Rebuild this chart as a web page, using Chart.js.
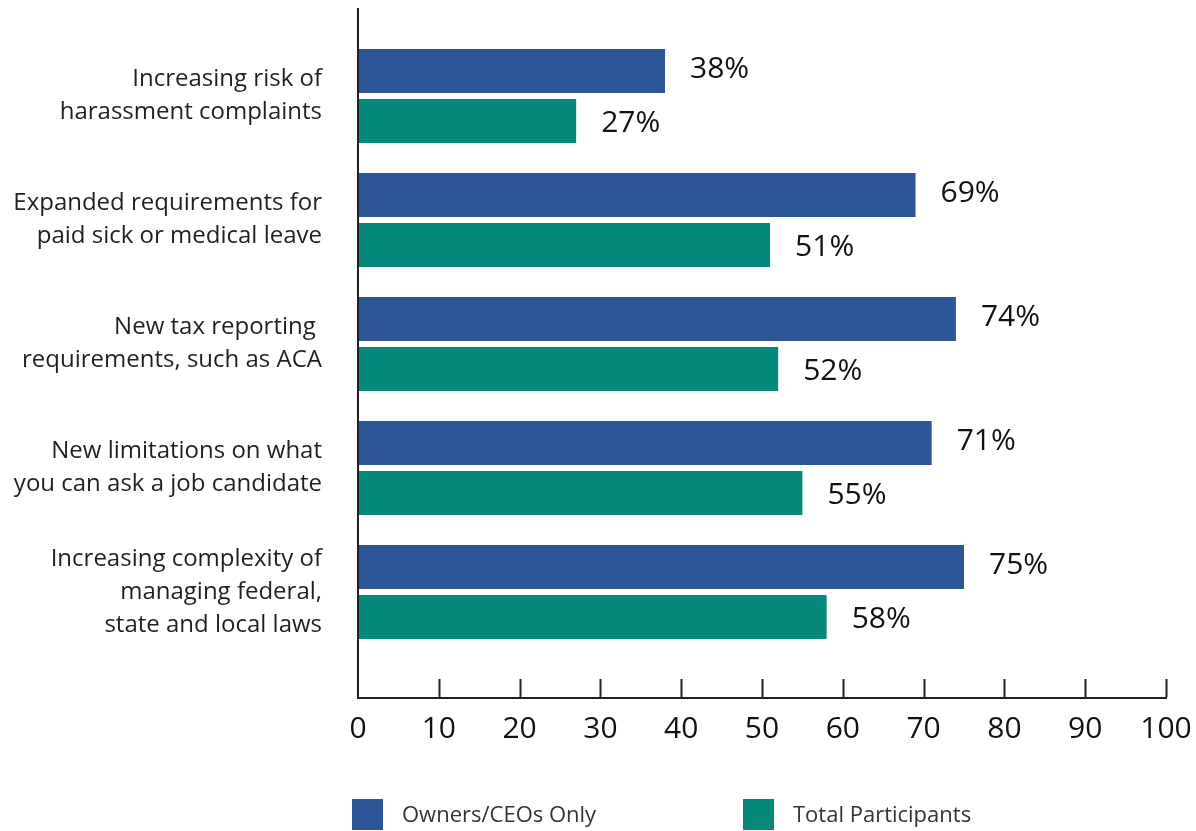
<!DOCTYPE html>
<html>
<head>
<meta charset="utf-8">
<script src="https://cdn.jsdelivr.net/npm/chart.js@4/dist/chart.umd.min.js"></script>
<style>
  html, body { margin: 0; padding: 0; background: #ffffff; }
  #wrap { width: 1196px; height: 831px; }
</style>
</head>
<body>
<div id="wrap"><canvas id="graficoRiscos" width="1196" height="831"></canvas></div>
<script>
// categorias e valores (%)
const categorias = [
    ["Increasing risk of", "harassment complaints"],
    ["Expanded requirements for", "paid sick or medical leave"],
    ["New tax reporting ", "requirements, such as ACA"],
    ["New limitations on what", "you can ask a job candidate"],
    ["Increasing complexity of", "managing federal,", "state and local laws"]
];
const donosCeos = [38, 69, 74, 71, 75];
const totalParticipantes = [27, 51, 52, 55, 58];
const ticksEixoX = [0, 10, 20, 30, 40, 50, 60, 70, 80, 90, 100];

const AZUL = "#2d5697";
const VERDE = "#06897a";
const TINTA = "#231f20";
const FONTE = "'Open Sans', 'Noto Sans', sans-serif";

// eixos desenhados à mão: linha vertical alta e eixo x com ticks para cima
const eixosPlugin = {
    id: "eixos",
    afterDraw(chart) {
        const ctx = chart.ctx;
        const area = chart.chartArea;
        const x = chart.scales.x;
        const base = area.bottom + 43;
        ctx.save();
        ctx.strokeStyle = TINTA;
        ctx.lineWidth = 2;
        ctx.beginPath();
        ctx.moveTo(area.left, area.top - 26);
        ctx.lineTo(area.left, base + 1);
        ctx.lineTo(x.getPixelForValue(100) + 1, base + 1);
        ctx.stroke();
        ticksEixoX.forEach(function (v) {
            if (v === 0) return;
            const px = Math.round(x.getPixelForValue(v)) + 0.5;
            ctx.beginPath();
            ctx.moveTo(px, base - 18);
            ctx.lineTo(px, base);
            ctx.stroke();
        });
        ctx.restore();
    }
};

// rótulos de porcentagem à direita das barras
const rotulosPlugin = {
    id: "rotulos",
    afterDatasetsDraw(chart) {
        const ctx = chart.ctx;
        ctx.save();
        ctx.font = "30px " + FONTE;
        ctx.fillStyle = "#111111";
        ctx.textBaseline = "middle";
        ctx.textAlign = "left";
        chart.data.datasets.forEach(function (ds, i) {
            const meta = chart.getDatasetMeta(i);
            const dy = i === 0 ? -2 : 2;
            meta.data.forEach(function (bar, j) {
                ctx.fillText(ds.data[j] + "%", bar.x + 25, bar.y + dy);
            });
        });
        ctx.restore();
    }
};

// legenda embaixo
const legendaPlugin = {
    id: "legenda",
    afterDraw(chart) {
        const ctx = chart.ctx;
        const posicoes = [352, 743];
        ctx.save();
        ctx.font = "22px " + FONTE;
        ctx.textBaseline = "middle";
        ctx.textAlign = "left";
        chart.data.datasets.forEach(function (ds, i) {
            ctx.fillStyle = ds.backgroundColor;
            ctx.fillRect(posicoes[i], 799, 31, 31);
            ctx.fillStyle = "#333333";
            ctx.fillText(ds.label, posicoes[i] + 50, 816);
        });
        ctx.restore();
    }
};

function desenhar() {
    new Chart(document.getElementById("graficoRiscos"), {
        type: "bar",
        data: {
            labels: categorias,
            datasets: [
                {
                    label: "Owners/CEOs Only",
                    data: donosCeos,
                    backgroundColor: AZUL,
                    barPercentage: 0.88,
                    categoryPercentage: 0.806
                },
                {
                    label: "Total Participants",
                    data: totalParticipantes,
                    backgroundColor: VERDE,
                    barPercentage: 0.88,
                    categoryPercentage: 0.806
                }
            ]
        },
        options: {
            indexAxis: "y",
            responsive: false,
            animation: false,
            layout: { padding: { top: 34, right: 30, left: 0, bottom: 0 } },
            plugins: {
                legend: { display: false },
                tooltip: { enabled: false }
            },
            scales: {
                x: {
                    min: 0,
                    max: 100,
                    afterBuildTicks: function (s) {
                        s.ticks = ticksEixoX.map(function (v) { return { value: v }; });
                    },
                    afterFit: function (s) {
                        s.height = 177;
                        s.paddingLeft = 0;
                        s.paddingRight = 0;
                    },
                    grid: { display: false, drawTicks: false },
                    border: { display: false },
                    ticks: {
                        color: "#111111",
                        padding: 57,
                        font: { family: FONTE, size: 30 },
                        maxRotation: 0
                    }
                },
                y: {
                    afterFit: function (s) {
                        s.width = 358;
                        s.paddingTop = 0;
                        s.paddingBottom = 0;
                    },
                    grid: { display: false, drawTicks: false },
                    border: { display: false },
                    ticks: {
                        color: TINTA,
                        padding: 36,
                        font: { family: FONTE, size: 24, lineHeight: 1.38 }
                    }
                }
            }
        },
        plugins: [eixosPlugin, rotulosPlugin, legendaPlugin]
    });
}

document.fonts.load("24px 'Open Sans'").then(desenhar, desenhar);
</script>
</body>
</html>
